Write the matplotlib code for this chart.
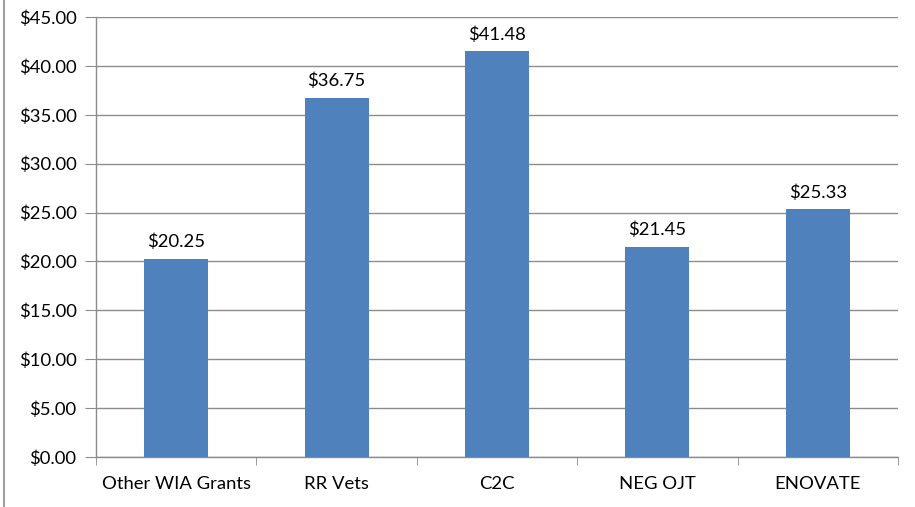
import matplotlib
matplotlib.use("Agg")

import matplotlib.pyplot as plt
from matplotlib.lines import Line2D
from matplotlib.ticker import FuncFormatter

# Average hourly wage by program
categories = ["Other WIA Grants", "RR Vets", "C2C", "NEG OJT", "ENOVATE"]
values = [20.25, 36.75, 41.48, 21.45, 25.33]
y_ticks = [0, 5, 10, 15, 20, 25, 30, 35, 40, 45]

plt.rcParams['font.family'] = ['Lato', 'DejaVu Sans']

fig = plt.figure(figsize=(9.15, 5.07), dpi=100)
ax = fig.add_axes([96 / 915, 50 / 507, 802 / 915, 440 / 507])

x = list(range(len(categories)))
bars = ax.bar(x, values, width=0.4, color="#4F81BD", zorder=3)

for xi, v in zip(x, values):
    ax.text(xi, v + 0.9, "${:.2f}".format(v), ha="center", va="bottom", fontsize=13.3)

ax.set_xlim(-0.5, len(categories) - 0.5)
ax.set_ylim(0, 45)
ax.set_yticks(y_ticks)
ax.yaxis.set_major_formatter(FuncFormatter(lambda v, p: "${:.2f}".format(v)))
ax.set_xticks(x)
ax.set_xticklabels(categories)
ax.set_xticks([i - 0.5 for i in range(len(categories) + 1)], minor=True)

ax.grid(True, axis="y", color="#8c8c8c", linewidth=1, zorder=0)
for side in ["top", "right"]:
    ax.spines[side].set_visible(False)
for side in ["left", "bottom"]:
    ax.spines[side].set_color("#8c8c8c")
    ax.spines[side].set_linewidth(1)

ax.tick_params(axis="y", length=8, color="#8c8c8c", labelsize=13.3, pad=6)
ax.tick_params(axis="x", which="major", length=0, labelsize=13.3, pad=14)
ax.tick_params(axis="x", which="minor", length=6, color="#8c8c8c")

# gray border on the left edge of the image
fig.add_artist(Line2D([4 / 915, 4 / 915], [0, 1], color="#a0a0a0", linewidth=1.5))

plt.savefig("out.png", dpi=100)
